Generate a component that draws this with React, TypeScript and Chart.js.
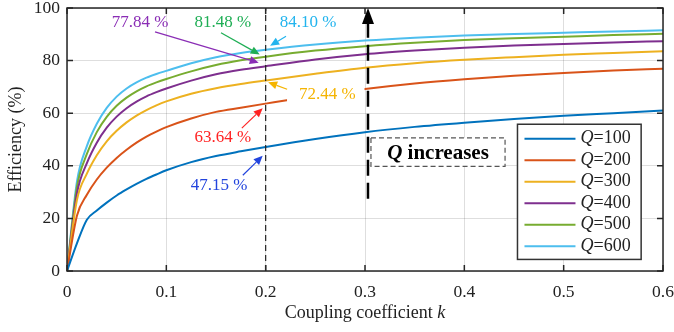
import React, { useEffect, useRef } from "react";
import { Chart, registerables } from "chart.js";
Chart.register(...registerables);

const kValues = [0, 0.01, 0.02, 0.03, 0.04, 0.05, 0.06, 0.07, 0.08, 0.09, 0.1, 0.125, 0.15, 0.175, 0.2, 0.25, 0.3, 0.35, 0.4, 0.45, 0.5, 0.55, 0.6];
const q100 = [0, 10.5, 19.5, 23, 26, 28.7, 31, 33.1, 35, 36.7, 38.3, 41.4, 43.7, 45.5, 47.15, 50.2, 52.8, 54.8, 56.4, 57.8, 59.0, 60.0, 61.0];
const q200 = [0, 21, 29, 34.8, 39.3, 43, 46.1, 48.8, 51.1, 53.0, 54.7, 58.0, 60.5, 62.1, 63.64, 66.6, 69.2, 71.3, 72.9, 74.2, 75.3, 76.2, 76.9];
const q300 = [0, 27, 37, 44, 49.3, 53.3, 56.5, 59.1, 61.2, 63.0, 64.5, 67.4, 69.5, 71.1, 72.44, 75.0, 77.3, 79.0, 80.3, 81.3, 82.2, 82.9, 83.6];
const q400 = [0, 29.5, 41, 48.8, 54.5, 58.7, 61.9, 64.4, 66.4, 68.0, 69.4, 72.4, 74.8, 76.5, 77.84, 80.4, 82.4, 83.8, 84.9, 85.7, 86.3, 86.9, 87.4];
const q500 = [0, 32, 44.5, 52.8, 58.6, 62.8, 65.9, 68.3, 70.2, 71.7, 73.0, 75.9, 78.3, 80.1, 81.48, 83.8, 85.5, 86.8, 87.8, 88.5, 89.1, 89.7, 90.2];
const q600 = [0, 34, 47.5, 56, 62, 66.3, 69.4, 71.7, 73.5, 74.9, 76.1, 79, 81.3, 82.9, 84.1, 86.1, 87.6, 88.7, 89.5, 90.1, 90.6, 91.1, 91.5];

const seriesNames = ["100", "200", "300", "400", "500", "600"];
const seriesValues = [q100, q200, q300, q400, q500, q600];
const seriesColors = ["#0072BD", "#D95319", "#EDB120", "#7E2F8E", "#77AC30", "#4DBEEE"];

const xTicks = [0, 0.1, 0.2, 0.3, 0.4, 0.5, 0.6];
const yTicks = [0, 20, 40, 60, 80, 100];

// annotation labels at k = 0.2: [text, color, labelK, labelV, fromK, fromV, toK, toV]
const markLabels: [string, string, number, number, number, number, number, number][] = [
  ["47.15 %", "#2244dd", 0.153, 32.4, 0.177, 36.4, 0.197, 43.8],
  ["63.64 %", "#ff2222", 0.157, 50.9, 0.176, 54.3, 0.197, 61.9],
  ["72.44 %", "#f5b400", 0.262, 67.2, 0.2216, 69.1, 0.2025, 71.8],
  ["77.84 %", "#8a2db5", 0.0735, 94.3, 0.0886, 90.9, 0.193, 79.2],
  ["81.48 %", "#1fae55", 0.157, 94.3, 0.155, 90.6, 0.194, 82.3],
  ["84.10 %", "#22b4ee", 0.2427, 94.3, 0.2205, 89.3, 0.2045, 85.6],
];

const SERIF = "'Liberation Serif', 'Times New Roman', serif";

function drawArrow(ctx: CanvasRenderingContext2D, x1: number, y1: number, x2: number, y2: number, color: string, head = 9, hw = 4) {
  const ang = Math.atan2(y2 - y1, x2 - x1);
  const bx = x2 - head * Math.cos(ang);
  const by = y2 - head * Math.sin(ang);
  ctx.save();
  ctx.strokeStyle = color;
  ctx.fillStyle = color;
  ctx.lineWidth = 1.2;
  ctx.setLineDash([]);
  ctx.beginPath();
  ctx.moveTo(x1, y1);
  ctx.lineTo(bx, by);
  ctx.stroke();
  ctx.beginPath();
  ctx.moveTo(x2, y2);
  ctx.lineTo(bx + hw * Math.sin(ang), by - hw * Math.cos(ang));
  ctx.lineTo(bx - hw * Math.sin(ang), by + hw * Math.cos(ang));
  ctx.closePath();
  ctx.fill();
  ctx.restore();
}

const overlayPlugin = {
  id: "overlay",
  afterDatasetsDraw(chart: any) {
    const ctx: CanvasRenderingContext2D = chart.ctx;
    const xs = chart.scales.x;
    const ys = chart.scales.y;
    const X = (k: number) => xs.getPixelForValue(k);
    const Y = (v: number) => ys.getPixelForValue(v);
    const area = chart.chartArea;

    // white background behind 72.44 label (gap in Q=200 line)
    ctx.save();
    ctx.fillStyle = "#ffffff";
    ctx.fillRect(X(0.2215), Y(71.5), X(0.2995) - X(0.2215), Y(64) - Y(71.5));
    ctx.restore();

    // dashed line at k=0.2
    ctx.save();
    ctx.strokeStyle = "#222";
    ctx.lineWidth = 1.2;
    ctx.setLineDash([6, 4]);
    ctx.beginPath();
    ctx.moveTo(X(0.2), area.bottom);
    ctx.lineTo(X(0.2), area.top);
    ctx.stroke();
    ctx.restore();

    // labels and arrows
    ctx.save();
    ctx.font = `17px ${SERIF}`;
    ctx.textAlign = "center";
    ctx.textBaseline = "middle";
    for (const [t, c, lk, lv, fk, fv, tk, tv] of markLabels) {
      ctx.fillStyle = c;
      ctx.fillText(t, X(lk), Y(lv));
      drawArrow(ctx, X(fk), Y(fv), X(tk), Y(tv), c);
    }
    ctx.restore();

    // big dashed arrow at k ~ 0.303
    const ax = X(0.303);
    ctx.save();
    ctx.strokeStyle = "#000";
    ctx.lineWidth = 2.5;
    ctx.setLineDash([16, 7]);
    ctx.beginPath();
    ctx.moveTo(ax, Y(27.5));
    ctx.lineTo(ax, area.top + 14);
    ctx.stroke();
    ctx.setLineDash([]);
    ctx.fillStyle = "#000";
    ctx.beginPath();
    ctx.moveTo(ax, area.top);
    ctx.lineTo(ax - 6, area.top + 16);
    ctx.lineTo(ax + 6, area.top + 16);
    ctx.closePath();
    ctx.fill();
    ctx.restore();

    // "Q increases" box
    const bx1 = X(0.306), bx2 = X(0.441), by1 = Y(50.6), by2 = Y(39.8);
    ctx.save();
    ctx.fillStyle = "#fff";
    ctx.fillRect(bx1, by1, bx2 - bx1, by2 - by1);
    ctx.strokeStyle = "#555";
    ctx.lineWidth = 1.2;
    ctx.setLineDash([5, 3]);
    ctx.strokeRect(bx1, by1, bx2 - bx1, by2 - by1);
    ctx.setLineDash([]);
    ctx.fillStyle = "#000";
    ctx.textBaseline = "middle";
    ctx.textAlign = "left";
    ctx.font = `italic bold 21px ${SERIF}`;
    const wq = ctx.measureText("Q").width;
    ctx.font = `bold 21px ${SERIF}`;
    const wr = ctx.measureText(" increases").width;
    const tx = (bx1 + bx2) / 2 - (wq + wr) / 2;
    const ty = (by1 + by2) / 2 + 1;
    ctx.font = `italic bold 21px ${SERIF}`;
    ctx.fillText("Q", tx, ty);
    ctx.font = `bold 21px ${SERIF}`;
    ctx.fillText(" increases", tx + wq, ty);
    ctx.restore();

    // legend
    const lx1 = X(0.4535), lx2 = X(0.578), ly1 = Y(55.8), ly2 = Y(4.4);
    ctx.save();
    ctx.fillStyle = "#fff";
    ctx.fillRect(lx1, ly1, lx2 - lx1, ly2 - ly1);
    ctx.strokeStyle = "#333";
    ctx.lineWidth = 1.5;
    ctx.strokeRect(lx1, ly1, lx2 - lx1, ly2 - ly1);
    ctx.textBaseline = "middle";
    ctx.textAlign = "left";
    seriesNames.forEach((n, i) => {
      const ry = ly1 + 14.5 + i * 21.5;
      ctx.strokeStyle = seriesColors[i];
      ctx.lineWidth = 2;
      ctx.beginPath();
      ctx.moveTo(lx1 + 7, ry);
      ctx.lineTo(lx1 + 58, ry);
      ctx.stroke();
      ctx.fillStyle = "#222";
      ctx.font = `italic 18px ${SERIF}`;
      const w = ctx.measureText("Q").width;
      ctx.fillText("Q", lx1 + 63, ry);
      ctx.font = `18px ${SERIF}`;
      ctx.fillText("=" + n, lx1 + 63 + w, ry);
    });
    ctx.restore();

    // axes box and inward ticks
    ctx.save();
    ctx.strokeStyle = "#262626";
    ctx.lineWidth = 1.5;
    ctx.strokeRect(area.left, area.top, area.right - area.left, area.bottom - area.top);
    ctx.beginPath();
    for (const t of xTicks) {
      const px = X(t);
      ctx.moveTo(px, area.bottom);
      ctx.lineTo(px, area.bottom - 6);
      ctx.moveTo(px, area.top);
      ctx.lineTo(px, area.top + 6);
    }
    for (const t of yTicks) {
      const py = Y(t);
      ctx.moveTo(area.left, py);
      ctx.lineTo(area.left + 6, py);
      ctx.moveTo(area.right, py);
      ctx.lineTo(area.right - 6, py);
    }
    ctx.stroke();
    ctx.restore();

    // axis titles
    ctx.save();
    ctx.fillStyle = "#222";
    ctx.textBaseline = "middle";
    ctx.textAlign = "left";
    ctx.font = `18px ${SERIF}`;
    const t1 = "Coupling coefficient ";
    const w1 = ctx.measureText(t1).width;
    ctx.font = `italic 18px ${SERIF}`;
    const w2 = ctx.measureText("k").width;
    const cx = (area.left + area.right) / 2 - (w1 + w2) / 2;
    ctx.font = `18px ${SERIF}`;
    ctx.fillText(t1, cx, 313.5);
    ctx.font = `italic 18px ${SERIF}`;
    ctx.fillText("k", cx + w1, 313.5);
    ctx.translate(16.5, (area.top + area.bottom) / 2);
    ctx.rotate(-Math.PI / 2);
    ctx.textAlign = "center";
    ctx.font = `18px ${SERIF}`;
    ctx.fillText("Efficiency (%)", 0, 0);
    ctx.restore();
  },
};

export default function App() {
  const ref = useRef<HTMLCanvasElement>(null);
  useEffect(() => {
    if (!ref.current) return;
    const chart = new Chart(ref.current, {
      type: "line",
      data: {
        datasets: seriesNames.map((n, i) => ({
          label: "Q=" + n,
          data: kValues.map((k, j) => ({ x: k, y: seriesValues[i][j] })),
          borderColor: seriesColors[i],
          backgroundColor: seriesColors[i],
          borderWidth: 2,
          pointRadius: 0,
          cubicInterpolationMode: "monotone" as const,
          fill: false,
        })),
      },
      options: {
        animation: false,
        responsive: false,
        devicePixelRatio: 1,
        layout: { padding: { left: 0, right: 0, top: 0, bottom: 0 } },
        plugins: { legend: { display: false }, tooltip: { enabled: false } },
        scales: {
          x: {
            type: "linear",
            min: 0,
            max: 0.6,
            afterFit: (s: any) => { s.height = 61; s.paddingRight = 11; },
            afterBuildTicks: (s: any) => { s.ticks = xTicks.map((v) => ({ value: v })); },
            ticks: {
              padding: 11,
              color: "#222",
              font: { family: SERIF, size: 17.5 },
              callback: (v: any) => (v === 0 ? "0" : Number(v).toFixed(1)),
              maxRotation: 0,
            },
            grid: { color: "rgba(0,0,0,0.13)", drawTicks: false, lineWidth: 1 },
            border: { display: false },
          },
          y: {
            type: "linear",
            min: 0,
            max: 100,
            afterFit: (s: any) => { s.width = 67; s.paddingTop = 8; },
            afterBuildTicks: (s: any) => { s.ticks = yTicks.map((v) => ({ value: v })); },
            ticks: {
              padding: 7,
              color: "#222",
              font: { family: SERIF, size: 17.5 },
            },
            grid: { color: "rgba(0,0,0,0.13)", drawTicks: false, lineWidth: 1 },
            border: { display: false },
          },
        },
      },
      plugins: [overlayPlugin],
    });
    return () => chart.destroy();
  }, []);
  return (
    <div style={{ position: "absolute", left: 0, top: 0, width: 674, height: 332, background: "#fff" }}>
      <canvas ref={ref} width={674} height={332} />
    </div>
  );
}
